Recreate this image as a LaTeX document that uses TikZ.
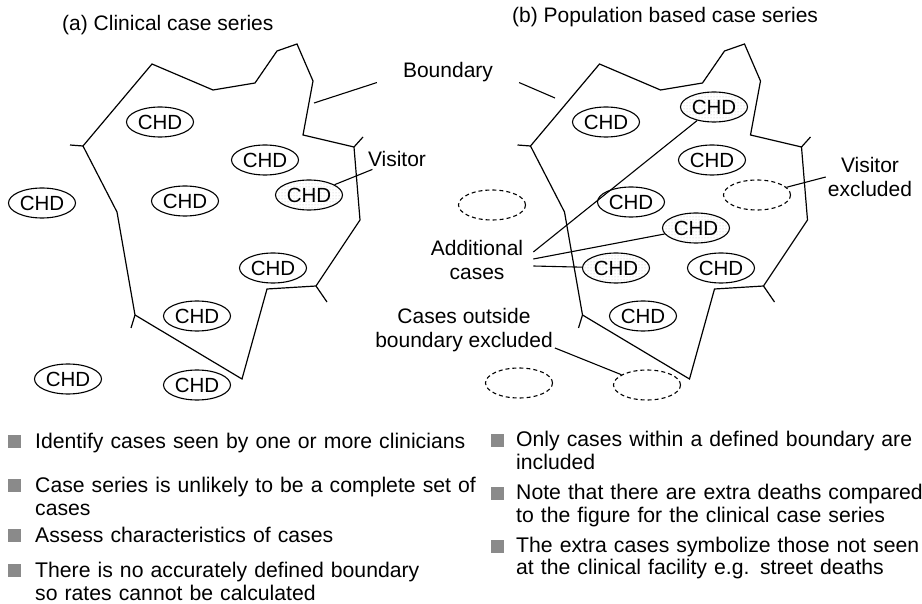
\documentclass[tikz,border=0pt]{standalone}
\usepackage{fontspec}
\setmainfont{Liberation Sans}
\usetikzlibrary{shapes.geometric, patterns}
\definecolor{bulletgray}{HTML}{8A8A8A}
\newcommand{\lbfont}{\fontsize{21}{24}\selectfont}
\newcommand{\bndry}{%
  \draw[bd] (83,146) -- (152,64) -- (213,90) -- (255,83) -- (277,51) -- (297,44)
    -- (313,81) -- (303,135) -- (354,147) -- (360,220) -- (316,286) -- (267,289)
    -- (242,379) -- (135,315) -- (117,212) -- cycle;
  \draw[bd] (83,146) -- (70,145);
  \draw[bd] (354,147) -- (363,137);
  \draw[bd] (316,286) -- (327,302);
  \draw[bd] (135,315) -- (131,328);
}
\tikzset{
  bd/.style={line width=1.2pt, line join=miter},
  chd/.style={draw, ellipse, line width=1.1pt, minimum width=67pt, minimum height=30pt,
              inner sep=0pt, font=\fontsize{20.5}{22}\selectfont},
  newchd/.style={chd, pattern=dots, pattern color=black!25},
  gone/.style={chd, dash pattern=on 4pt off 3pt},
  lb/.style={font=\lbfont, align=center, inner sep=2pt},
  ld/.style={line width=1.1pt},
  sq/.style={fill=bulletgray, minimum size=13pt, inner sep=0pt},
  itm/.style={anchor=base west, inner sep=0pt, text width=470pt, align=left,
              font=\fontsize{21.2}{22.5}\selectfont},
}

\begin{document}
\begin{tikzpicture}[x=1pt, y=-1pt]
    \useasboundingbox (0,0) rectangle (922,604);

    \node[anchor=base west, inner sep=0pt, font=\lbfont] (ta) at (62,31) {(a) Clinical case series};
    \node[anchor=base west, inner sep=0pt, font=\lbfont] (tb) at (512,23) {(b) Population based case series};

    \bndry
    \begin{scope}[xshift=447.5pt]
      \bndry
    \end{scope}

    \node[chd] (a1) at (160,122) {CHD};
    \node[chd] (a2) at (265,160) {CHD};
    \node[newchd] (a3) at (309,195) {CHD};
    \node[chd] (a4) at (185,201) {CHD};
    \node[chd] (a5) at (42,203) {CHD};
    \node[chd] (a6) at (273,268) {CHD};
    \node[chd] (a7) at (197,316) {CHD};
    \node[chd] (a8) at (68,379) {CHD};
    \node[chd] (a9) at (197,385) {CHD};

    \node[chd] (b1) at (606,122) {CHD};
    \node[newchd] (b2) at (714,107) {CHD};
    \node[chd] (b3) at (712,160) {CHD};
    \node[gone] (b4) at (757,195) {};
    \node[chd] (b5) at (631,202) {CHD};
    \node[newchd] (b6) at (696,228) {CHD};
    \node[newchd] (b7) at (616,268) {CHD};
    \node[chd] (b8) at (721,268) {CHD};
    \node[chd] (b9) at (643,316) {CHD};
    \node[gone] (b10) at (492,205) {};
    \node[gone] (b11) at (519,383) {};
    \node[gone] (b12) at (647,385) {};

    \node[lb, anchor=base, inner xsep=26pt, inner ysep=0pt] (bnd) at (448,78) {Boundary};
    \coordinate (bpa) at (314,103);
    \coordinate (bpb) at (555,98);
    \draw[ld] (bnd.south west) -- (bpa);
    \draw[ld] (bnd.south east) -- (bpb);

    \node[lb, anchor=base] (vis) at (397,167) {Visitor};
    \draw[ld] (vis) -- (a3);

    \node[lb] (vex) at (870,177) {Visitor\\excluded};
    \draw[ld] (vex.west) -- (b4);

    \node[lb, inner xsep=10pt] (add) at (477,260) {Additional\\cases};
    \draw[ld] ([yshift=8pt]add.east) -- (b2);
    \draw[ld] ([yshift=1pt]add.east) -- (b6);
    \draw[ld] ([yshift=-6pt]add.east) -- (b7);

    \node[lb] (cout) at (464,330) {Cases outside\\boundary excluded};
    \draw[ld] ([yshift=6pt]cout.south east) -- (b12);

    \node[sq] (s1) at (14,441.5) {};
    \node[itm] (i1) at (35,448.5) {Identify cases seen by one or more clinicians};
    \node[sq] (s2) at (14,485.5) {};
    \node[itm] (i2) at (35,492.5) {Case series is unlikely to be a complete set of\\cases};
    \node[sq] (s3) at (14,535.5) {};
    \node[itm] (i3) at (35,542.5) {Assess characteristics of cases};
    \node[sq] (s4) at (14,570.5) {};
    \node[itm] (i4) at (35,577.5) {There is no accurately defined boundary\\so rates cannot be calculated};

    \node[sq] (r1) at (497,440.5) {};
    \node[itm] (j1) at (516,446.5) {Only cases within a defined boundary are\\included};
    \node[sq] (r2) at (497,493.5) {};
    \node[itm] (j2) at (516,499.5) {Note that there are extra deaths compared\\to the figure for the clinical case series};
    \node[sq] (r3) at (497,546) {};
    \node[itm] (j3) at (516,552) {The extra cases symbolize those not seen\\at the clinical facility e.g. street deaths};
\end{tikzpicture}
\end{document}
